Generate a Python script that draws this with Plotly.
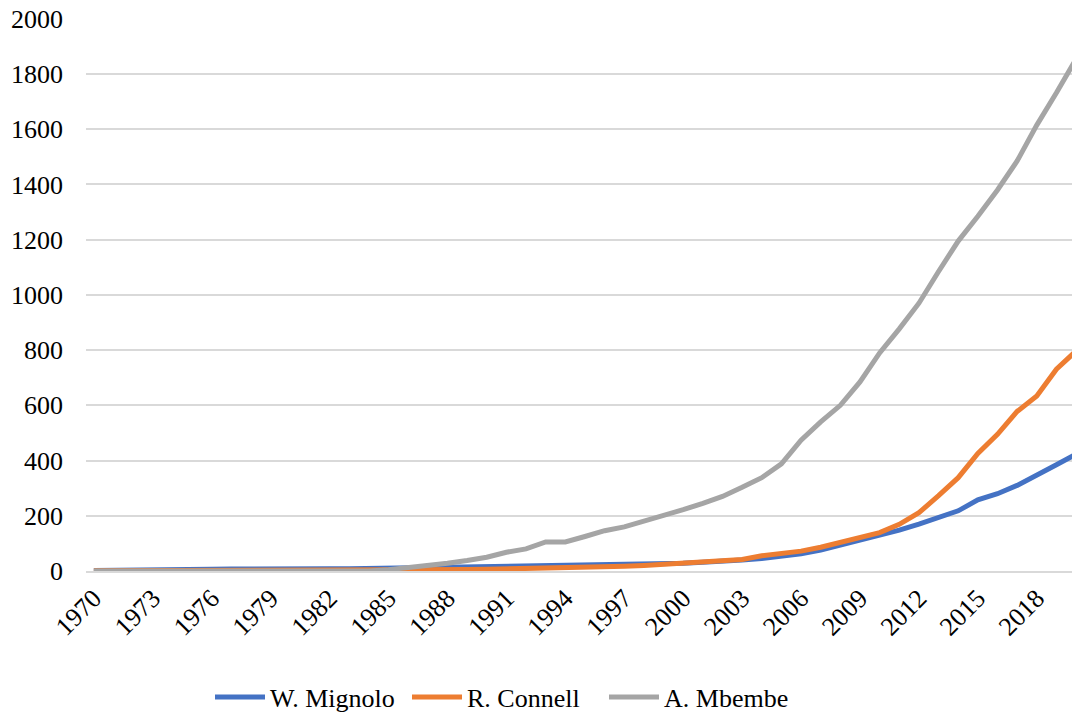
import plotly.graph_objects as go

years = list(range(1970, 2021))

mignolo = [2, 2, 3, 4, 5, 6, 6, 7, 8, 8, 8, 8, 8, 8, 9,
           9, 10, 11, 12, 13, 14, 15, 16, 17, 19, 21, 22, 23, 24, 25,
           28, 32, 38, 40, 45, 52, 62, 76, 93, 111, 128, 148, 170, 194, 218,
           258, 280, 310, 350, 385, 423]

connell = [1, 1, 1, 1, 1, 1, 1, 1, 1, 1, 1, 1, 1, 1, 1,
           1, 2, 3, 4, 5, 6, 7, 9, 10, 12, 15, 16, 17, 20, 24,
           28, 32, 38, 42, 55, 62, 72, 86, 103, 121, 139, 169, 211, 273, 338,
           426, 495, 578, 634, 731, 797]

mbembe = [0, 0, 0, 0, 0, 0, 0, 0, 0, 0, 0, 0, 0, 0, 0,
          5, 12, 20, 28, 38, 50, 68, 80, 105, 105, 125, 146, 160, 180, 200,
          222, 245, 270, 303, 338, 388, 474, 540, 600, 685, 790, 877, 970, 1085, 1195,
          1285, 1380, 1485, 1615, 1732, 1855]

series = [("W. Mignolo", mignolo, "#4472C4"),
          ("R. Connell", connell, "#ED7D31"),
          ("A. Mbembe", mbembe, "#A5A5A5")]

x_ticks = list(range(1970, 2019, 3))
y_ticks = list(range(0, 2001, 200))

fig = go.Figure()
for name, vals, color in series:
    fig.add_trace(go.Scatter(x=years, y=vals, name=name, mode="lines",
                             line=dict(color=color, width=5)))

font = dict(family="Liberation Serif, Times New Roman, serif", size=26, color="#000000")

W, H = 1072, 706

fig.update_layout(
    width=W, height=H,
    margin=dict(l=78, r=0, t=10, b=143, autoexpand=False),
    paper_bgcolor="white", plot_bgcolor="white",
    font=font,
    showlegend=True,
    legend=dict(orientation="h", x=202 / W, xref="container", xanchor="left",
                y=1 - 689 / H, yref="container", yanchor="middle",
                font=font, itemwidth=50, entrywidth=132, entrywidthmode="pixels"),
    xaxis=dict(range=[1969.6, 2020.2], tickmode="array", tickvals=x_ticks,
               ticktext=[str(v) for v in x_ticks], tickangle=-45,
               showgrid=False, zeroline=False, showline=True, automargin=False,
               linecolor="#D9D9D9", linewidth=1.5, ticks=""),
    yaxis=dict(range=[0, 2003], tickmode="array", tickvals=y_ticks,
               showgrid=True, gridcolor="#D9D9D9", gridwidth=1.5, automargin=False,
               zeroline=False, showline=False, ticks="",
               ticklabelstandoff=22, ticklabeloverflow="allow"),
)

fig.write_html("out.html")
